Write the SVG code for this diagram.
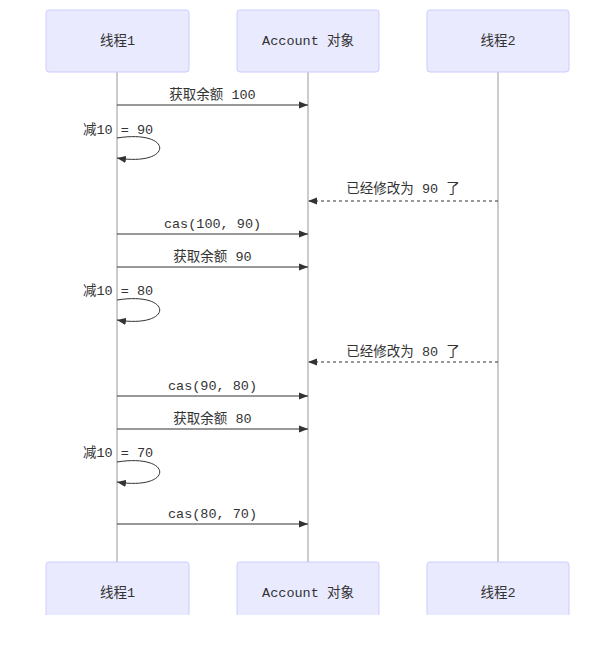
<svg xmlns="http://www.w3.org/2000/svg" width="616" height="647" viewBox="0 0 616 647">
<style>
.actor{fill:#eaeaff;stroke:#ccccff;stroke-width:1}
.atext{font-family:"Liberation Mono","Noto Sans CJK SC",monospace;font-size:13.5px;fill:#333;text-anchor:middle;dominant-baseline:central}
.life{stroke:#999;stroke-width:1}
.msg{stroke:#333;stroke-width:1;fill:none}
.dash{stroke-dasharray:3,3}
.mtext{font-family:"Liberation Mono","Noto Sans CJK SC",monospace;font-size:13.5px;fill:#333;text-anchor:middle}
</style>
<defs>
<marker id="arrow" viewBox="0 0 10 10" refX="10" refY="5" markerWidth="9" markerHeight="9" markerUnits="userSpaceOnUse" orient="auto">
<path d="M0,1 L10,5 L0,9 z" fill="#333"/>
</marker>
</defs>
<rect width="616" height="647" fill="#fff"/>
<g id="lifelines">
<line class="life" x1="117" y1="72" x2="117" y2="562"/>
<line class="life" x1="308" y1="72" x2="308" y2="562"/>
<line class="life" x1="498" y1="72" x2="498" y2="562"/>
</g>
<g id="actor-t1-top"><rect class="actor" x="46" y="10" width="143" height="62" rx="3"/><text class="atext" x="117.5" y="41">线程1</text></g>
<g id="actor-acc-top"><rect class="actor" x="237" y="10" width="142" height="62" rx="3"/><text class="atext" x="308" y="41">Account 对象</text></g>
<g id="actor-t2-top"><rect class="actor" x="427" y="10" width="142" height="62" rx="3"/><text class="atext" x="498" y="41">线程2</text></g>
<g id="actor-t1-bottom"><rect class="actor" x="46" y="562" width="143" height="62" rx="3"/><text class="atext" x="117.5" y="593">线程1</text></g>
<g id="actor-acc-bottom"><rect class="actor" x="237" y="562" width="142" height="62" rx="3"/><text class="atext" x="308" y="593">Account 对象</text></g>
<g id="actor-t2-bottom"><rect class="actor" x="427" y="562" width="142" height="62" rx="3"/><text class="atext" x="498" y="593">线程2</text></g>
<g id="connectors">
<line class="msg" x1="117" y1="105" x2="308" y2="105" marker-end="url(#arrow)"/>
<text class="mtext" x="212.5" y="99">获取余额 100</text>
<path class="msg" d="M117,138 C174,129 174,167 117,158" marker-end="url(#arrow)"/>
<text class="mtext" x="118" y="134">减10 = 90</text>
<line class="msg dash" x1="498" y1="201" x2="308" y2="201" marker-end="url(#arrow)"/>
<text class="mtext" x="403" y="193">已经修改为 90 了</text>
<line class="msg" x1="117" y1="234" x2="308" y2="234" marker-end="url(#arrow)"/>
<text class="mtext" x="212.5" y="228">cas(100, 90)</text>
<line class="msg" x1="117" y1="267" x2="308" y2="267" marker-end="url(#arrow)"/>
<text class="mtext" x="212.5" y="261">获取余额 90</text>
<path class="msg" d="M117,300 C174,291 174,329 117,320" marker-end="url(#arrow)"/>
<text class="mtext" x="118" y="295">减10 = 80</text>
<line class="msg dash" x1="498" y1="362" x2="308" y2="362" marker-end="url(#arrow)"/>
<text class="mtext" x="403" y="356">已经修改为 80 了</text>
<line class="msg" x1="117" y1="396" x2="308" y2="396" marker-end="url(#arrow)"/>
<text class="mtext" x="212.5" y="390">cas(90, 80)</text>
<line class="msg" x1="117" y1="429" x2="308" y2="429" marker-end="url(#arrow)"/>
<text class="mtext" x="212.5" y="423">获取余额 80</text>
<path class="msg" d="M117,462 C174,453 174,491 117,482" marker-end="url(#arrow)"/>
<text class="mtext" x="118" y="457">减10 = 70</text>
<line class="msg" x1="117" y1="524" x2="308" y2="524" marker-end="url(#arrow)"/>
<text class="mtext" x="212.5" y="518">cas(80, 70)</text>
</g>
<rect x="0" y="615" width="616" height="32" fill="#fff"/>
</svg>
